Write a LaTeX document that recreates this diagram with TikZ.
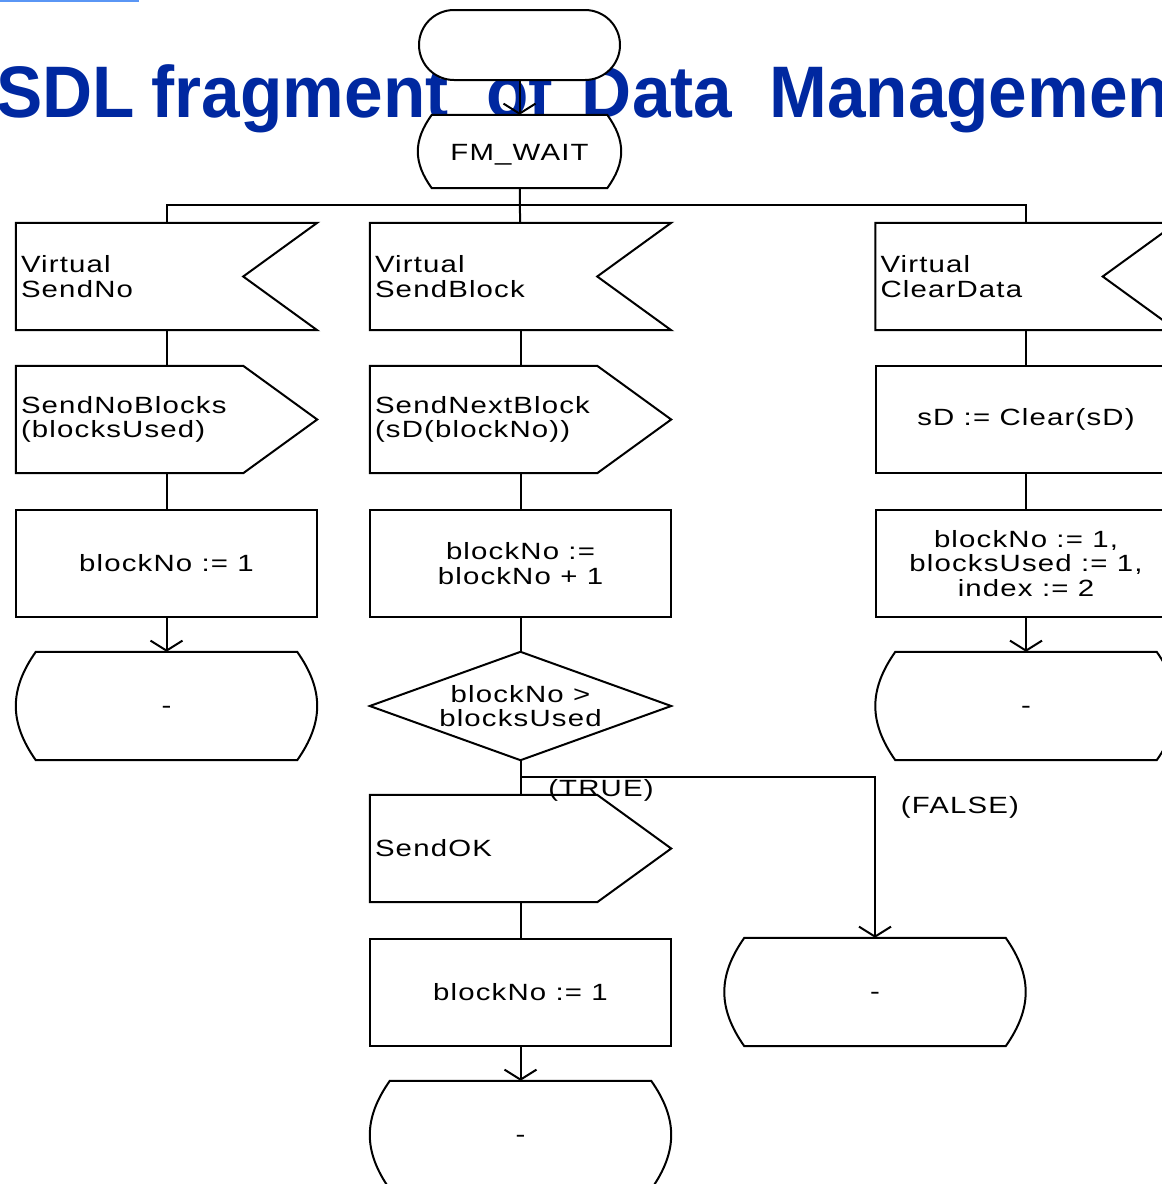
\documentclass[tikz,border=0pt]{standalone}
\usepackage{fontspec}
\setmainfont{Liberation Sans}
\newfontfamily\diagfont[FakeStretch=1.25,LetterSpace=5]{Liberation Sans}
\newfontfamily\ttlfont[FakeStretch=0.95]{Liberation Sans Bold}
\usetikzlibrary{arrows.meta,calc}
\definecolor{ttlblue}{RGB}{0,40,160}
\definecolor{lnkblue}{RGB}{90,150,245}
\pgfdeclarelayer{bg}
\pgfdeclarelayer{shapes}
\pgfsetlayers{bg,shapes,main}
\newcommand\inshp[1]{\begin{pgfonlayer}{shapes}\draw[shp] (#1.north west) -- (#1.north east) -- ($(#1.east)+(-74,0)$) -- (#1.south east) -- (#1.south west) -- cycle;\end{pgfonlayer}}
\newcommand\outshp[1]{\begin{pgfonlayer}{shapes}\draw[shp] (#1.north west) -- ($(#1.north east)+(-74,0)$) -- (#1.east) -- ($(#1.south east)+(-74,0)$) -- (#1.south west) -- cycle;\end{pgfonlayer}}
\newcommand\decshp[1]{\begin{pgfonlayer}{shapes}\draw[shp] (#1.west) -- (#1.north) -- (#1.east) -- (#1.south) -- cycle;\end{pgfonlayer}}
\newcommand\stshp[2]{\begin{pgfonlayer}{shapes}%
\draw[shp] let \p1=(#1.north west), \p2=(#1.south east), \n1={0.35*(\y2-\y1)} in
 (\x1+#2pt,\y1) -- (\x2-#2pt,\y1) .. controls (\x2+#2pt/3,\y1+\n1) and (\x2+#2pt/3,\y2-\n1) .. (\x2-#2pt,\y2) -- (\x1+#2pt,\y2) .. controls (\x1-#2pt/3,\y2-\n1) and (\x1-#2pt/3,\y1+\n1) .. (\x1+#2pt,\y1) -- cycle;
\end{pgfonlayer}}
\newcommand\dash{\raisebox{-4pt}[\height][\depth]{-}}
\begin{document}
\begin{tikzpicture}[x=1pt,y=-1pt,
  shp/.style={draw=black, line width=2pt, fill=white},
  blk/.style={minimum width=301pt, minimum height=107pt, inner sep=0pt, font=\diagfont\fontsize{23.5}{24.5}\selectfont, align=center},
  lft/.style={blk, text width=291pt, inner xsep=5pt, align=left},
  task/.style={blk, shp},
  lbl/.style={inner sep=0pt, font=\diagfont\fontsize{23.5}{24.5}\selectfont},
  con/.style={line width=2pt},
  arr/.style={con, -{Straight Barb[length=10pt,width=32pt]}}]
\useasboundingbox (0,0) rectangle (1162,1184);
\begin{pgfonlayer}{bg}
\node[anchor=base west, inner sep=0pt, text=ttlblue, font=\ttlfont\fontsize{73}{80}\selectfont] (title) at (-4,117) {SDL\hspace{17pt}fragment\hspace{38pt}of\hspace{30pt}Data\hspace{37pt}Management};
\draw[lnkblue, line width=1.5pt] (0,0.8) -- (139,0.8);
\end{pgfonlayer}
% start and first state
\node[shp, rounded corners=35pt, minimum width=201pt, minimum height=70pt, inner sep=0pt] (start) at (519.5,45) {};
\node[blk, minimum width=203pt, minimum height=73pt] (fm) at (519.5,151.5) {\raisebox{-3pt}[\height][\depth]{FM\_WAIT}};
\stshp{fm}{14}
% inputs
\node[lft] (in1) at (166.5,276.5) {Virtual\\SendNo};
\node[lft] (in2) at (520.5,276.5) {Virtual\\SendBlock};
\node[lft] (in3) at (1026,276.5) {Virtual\\ClearData};
\inshp{in1}\inshp{in2}\inshp{in3}
% second row
\node[lft] (o1) at (166.5,419.5) {SendNoBlocks\\(blocksUsed)};
\node[lft] (o2) at (520.5,419.5) {SendNextBlock\\(sD(blockNo))};
\outshp{o1}\outshp{o2}
\node[task] (t5) at (1026,419.5) {sD := Clear(sD)};
% third row
\node[task] (t1) at (166.5,563.5) {blockNo := 1};
\node[task] (t2) at (520.5,563.5) {blockNo :=\\blockNo + 1};
\node[task] (t6) at (1026,563.5) {blockNo := 1,\\blocksUsed := 1,\\index := 2};
% fourth row
\node[blk, minimum height=108pt] (s1) at (166.5,706) {\dash};
\node[blk, minimum height=108pt] (d) at (520.5,706) {blockNo >\\blocksUsed};
\node[blk, minimum height=108pt] (s5) at (1026,706) {\dash};
\stshp{s1}{20}\decshp{d}\stshp{s5}{20}
% lower part
\node[lft] (o3) at (520.5,848.5) {SendOK};
\outshp{o3}
\node[task] (t4) at (520.5,992) {blockNo := 1};
\node[blk, minimum height=108pt] (s3) at (875,992) {\dash};
\stshp{s3}{20}
\node[blk, minimum height=108pt] (s4) at (520.5,1135) {\dash};
\stshp{s4}{20}
% labels
\node[lbl] (tl) at (601,790) {(TRUE)};
\node[lbl] (fl) at (960,807) {(FALSE)};
% connectors
\draw[arr] (start) -- (fm);
\draw[con] (fm) -- (in2);
\draw[con] (in1.north) -- ++(0,-18) -| (in3.north);
\draw[con] (in1) -- (o1);
\draw[con] (o1) -- (t1);
\draw[arr] (t1) -- (s1);
\draw[con] (in2) -- (o2);
\draw[con] (o2) -- (t2);
\draw[con] (t2) -- (d);
\draw[con] (d.south) -- (o3.north);
\draw[con] (o3) -- (t4);
\draw[arr] (t4) -- (s4);
\coordinate (fb) at (520.5,777);
\draw[arr] (fb) -| (s3.north);
\draw[con] (in3) -- (t5);
\draw[con] (t5) -- (t6);
\draw[arr] (t6) -- (s5);
\end{tikzpicture}
\end{document}
